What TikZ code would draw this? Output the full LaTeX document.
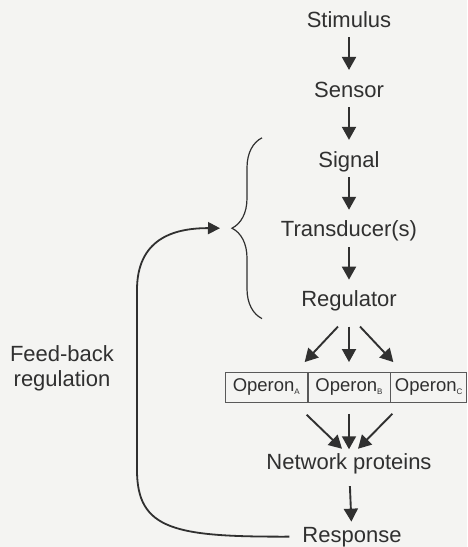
\documentclass[tikz,border=0pt]{standalone}
\usepackage{fontspec}
\setmainfont{Liberation Sans}
\usetikzlibrary{positioning,arrows.meta,decorations.pathreplacing,calc}
\definecolor{inkgray}{HTML}{303030}
\definecolor{paper}{HTML}{F4F4F2}
\newcommand{\opsub}[1]{\raisebox{-2.5pt}{\fontsize{8}{8}\selectfont #1}}

\begin{document}
\begin{tikzpicture}[x=1pt,y=1pt,
  stage/.style={text=inkgray,font=\fontsize{22}{24}\selectfont,text height=16pt,text depth=4.5pt,inner sep=3pt},
  opcell/.style={draw=inkgray!80,line width=0.7pt,minimum height=30pt,inner sep=0pt,text=inkgray,font=\fontsize{18.5}{20}\selectfont},
  flow/.style={draw=inkgray,line width=1.9pt,-{Triangle[length=13pt,width=14pt]},shorten <=2.5pt,shorten >=8pt},
  node distance=43pt]
%% paper
\fill [paper] (0,0) rectangle (467,-547);
\useasboundingbox (0,0) rectangle (467,-547);
%the nodes
\node [stage] (sigStimulus) at (349,-21.5) {Stimulus};
\node [stage,below=of sigStimulus] (sigSensor) {Sensor};
\node [stage,below=of sigSensor] (sigSignal) {Signal};
\node [stage,below=of sigSignal] (sigTransducer) {Transducer(s)};
\node [stage,below=of sigTransducer] (sigRegulator) {Regulator};
\node [opcell,minimum width=82pt,below=57.5pt of sigRegulator] (opB) {Operon\opsub{B}};
\node [opcell,minimum width=82pt,left=0pt of opB] (opA) {Operon\opsub{A}};
\node [opcell,minimum width=76pt,right=0pt of opB] (opC) {Operon\opsub{C}};
\node [stage,below=48pt of opB] (sigNetwork) {Network proteins};
\node [stage,inner ysep=1pt,below=47.5pt of sigNetwork,xshift=3pt] (sigResponse) {Response};
\node [text=inkgray,font=\fontsize{22}{25}\selectfont,align=center] (fbLabel) at (62,-368) {Feed-back\\regulation};
%the brace
\coordinate (braceTop) at ([shift={(-87pt,23.5pt)}]sigSignal.center);
\coordinate (braceBot) at ([shift={(-87pt,-17.5pt)}]sigRegulator.center);
\coordinate (braceTip) at ($($(braceTop)!0.5!(braceBot)$)+(-30pt,0)$);
\draw [inkgray,line width=1.2pt,decorate,decoration={brace,amplitude=30pt}] (braceBot) -- (braceTop);
%drawings of arrows
\draw [flow] (sigStimulus) -- (sigSensor);
\draw [flow] (sigSensor) -- (sigSignal);
\draw [flow] (sigSignal) -- (sigTransducer);
\draw [flow] (sigTransducer) -- (sigRegulator);

\draw [flow,shorten <=0pt,shorten >=0pt] ([shift={(-11pt,-12pt)}]sigRegulator.south) -- ([shift={(-3pt,10pt)}]opA.north east);
\draw [flow,shorten <=12pt,shorten >=10pt] (sigRegulator.south) -- (opB.north);
\draw [flow,shorten <=0pt,shorten >=0pt] ([shift={(11pt,-12pt)}]sigRegulator.south) -- ([shift={(3pt,10pt)}]opC.north west);

\draw [flow,shorten <=0pt,shorten >=0pt] ([shift={(-1pt,-12pt)}]opA.south east) -- ([shift={(-7pt,2pt)}]sigNetwork.north);
\draw [flow,shorten <=11pt,shorten >=1.5pt] (opB.south) -- (sigNetwork.north);
\draw [flow,shorten <=0pt,shorten >=0pt] ([shift={(2pt,-11pt)}]opC.south west) -- ([shift={(9pt,2pt)}]sigNetwork.north);

\draw [flow,shorten <=8.5pt,shorten >=3.5pt] (sigNetwork) -- (sigResponse);
%feed-back loop
\coordinate (fbLow) at (137,-470);
\coordinate (fbHigh) at (137,-290);
\draw [inkgray,line width=1.8pt,-{Triangle[length=12pt,width=12pt]},shorten <=10pt,shorten >=12pt]
  (sigResponse.west) .. controls (175,-537) and (137,-530) .. (fbLow) -- (fbHigh)
  .. controls (137,-240) and (172,-228) .. (braceTip);
\end{tikzpicture}
\end{document}
